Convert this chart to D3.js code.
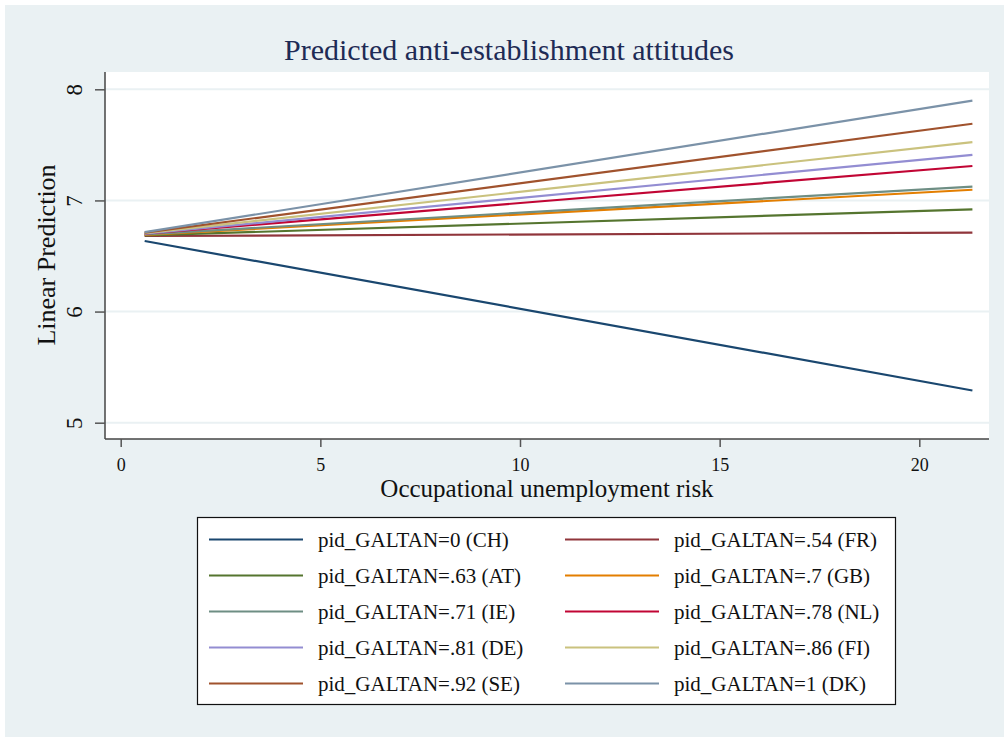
<!DOCTYPE html>
<html>
<head>
<meta charset="utf-8">
<script src="https://cdn.jsdelivr.net/npm/d3@7"></script>
<style>
  body { margin: 0; background: #fff; }
  svg text { font-family: "Liberation Serif", "Times New Roman", serif; }
</style>
</head>
<body>
<div class="main-container"></div>
<script>
// margins evaluated at the two ends of the risk range
const riskValues = [0.6, 21.33];

const seriesLabels = [
  "pid_GALTAN=0 (CH)", "pid_GALTAN=.54 (FR)",
  "pid_GALTAN=.63 (AT)", "pid_GALTAN=.7 (GB)",
  "pid_GALTAN=.71 (IE)", "pid_GALTAN=.78 (NL)",
  "pid_GALTAN=.81 (DE)", "pid_GALTAN=.86 (FI)",
  "pid_GALTAN=.92 (SE)", "pid_GALTAN=1 (DK)"
];

const predCH = [6.635, 5.29];
const predFR = [6.68, 6.71];
const predAT = [6.685, 6.92];
const predGB = [6.69, 7.096];
const predIE = [6.695, 7.125];
const predNL = [6.70, 7.31];
const predDE = [6.70, 7.41];
const predFI = [6.705, 7.525];
const predSE = [6.71, 7.69];
const predDK = [6.715, 7.898];

const seriesValues = [predCH, predFR, predAT, predGB, predIE, predNL, predDE, predFI, predSE, predDK];

const colors = ["#1a476f", "#90353b", "#55752f", "#e37e00", "#6e8e84",
                "#c10534", "#938dd2", "#cac27e", "#a0522d", "#7b92a8"];

const xTicks = [0, 5, 10, 15, 20];
const yTicks = [5, 6, 7, 8];

const width = 1004, height = 737;
const plot = {left: 105, right: 989, top: 72, bottom: 439};

const svg = d3.select(".main-container")
  .append("svg")
  .attr("width", width)
  .attr("height", height);

// outer background
svg.append("rect")
  .attr("x", 5).attr("y", 5)
  .attr("width", width - 5).attr("height", height - 5)
  .attr("fill", "#eaf1f3");

svg.append("rect")
  .attr("x", plot.left).attr("y", plot.top)
  .attr("width", plot.right - plot.left).attr("height", plot.bottom - plot.top)
  .attr("fill", "#fff");

let x = d3.scaleLinear()
  .domain([0, 20])
  .range([120.7, 919.3]);

let y = d3.scaleLinear()
  .domain([5, 8])
  .range([422.7, 89.3]);

// grid
svg.append("g")
  .selectAll("line")
  .data(yTicks)
  .join("line")
  .attr("x1", plot.left).attr("x2", plot.right)
  .attr("y1", d => y(d)).attr("y2", d => y(d))
  .attr("stroke", "#eaf1f3")
  .attr("stroke-width", 2);

// lines
const line = d3.line()
  .x(d => x(d[0]))
  .y(d => y(d[1]));

svg.append("g")
  .selectAll("path")
  .data(seriesValues)
  .join("path")
  .attr("fill", "none")
  .attr("stroke", (d, i) => colors[i])
  .attr("stroke-width", 2.2)
  .attr("d", d => line(riskValues.map((r, j) => [r, d[j]])));

// y axis
const yAxis = svg.append("g")
  .attr("transform", `translate(${plot.left},0)`)
  .call(d3.axisLeft(y).tickValues(yTicks).tickSize(10).tickFormat(d3.format("d")));
yAxis.select(".domain")
  .attr("d", `M0,${plot.top}V${plot.bottom}`)
  .attr("stroke", "#444").attr("stroke-width", 1.5);
yAxis.selectAll(".tick line").attr("stroke", "#555").attr("stroke-width", 1.5);
yAxis.selectAll(".tick text")
  .attr("x", null).attr("dy", null)
  .attr("transform", "translate(-31,0) rotate(-90)")
  .attr("text-anchor", "middle")
  .attr("dominant-baseline", "central")
  .attr("font-size", 23)
  .attr("fill", "#111");

// x axis
const xAxis = svg.append("g")
  .attr("transform", `translate(0,${plot.bottom})`)
  .call(d3.axisBottom(x).tickValues(xTicks).tickSize(8).tickFormat(d3.format("d")));
xAxis.select(".domain")
  .attr("d", `M${plot.left},0H${plot.right}`)
  .attr("stroke", "#444").attr("stroke-width", 1.5);
xAxis.selectAll(".tick line").attr("stroke", "#555").attr("stroke-width", 1.5);
xAxis.selectAll(".tick text")
  .attr("y", 32)
  .attr("dy", null)
  .attr("font-size", 18)
  .attr("fill", "#111");

// titles
svg.append("text")
  .attr("x", 509).attr("y", 60)
  .attr("text-anchor", "middle")
  .attr("font-size", 30)
  .attr("fill", "#1e2b55")
  .text("Predicted anti-establishment attitudes");

svg.append("text")
  .attr("transform", "translate(55,255) rotate(-90)")
  .attr("text-anchor", "middle")
  .attr("font-size", 26)
  .attr("fill", "#111")
  .text("Linear Prediction");

svg.append("text")
  .attr("x", 547).attr("y", 497)
  .attr("text-anchor", "middle")
  .attr("font-size", 25)
  .attr("fill", "#111")
  .text("Occupational unemployment risk");

// legend
const legend = svg.append("g");
legend.append("rect")
  .attr("x", 197.5).attr("y", 517.5)
  .attr("width", 698).attr("height", 187)
  .attr("fill", "#fff")
  .attr("stroke", "#111")
  .attr("stroke-width", 1.2);

const items = legend.selectAll("g.item")
  .data(seriesLabels)
  .join("g")
  .attr("class", "item")
  .attr("transform", (d, i) =>
    `translate(${i % 2 === 0 ? 209 : 565},${539.5 + Math.floor(i / 2) * 36})`);

items.append("line")
  .attr("x1", 0).attr("x2", 94)
  .attr("stroke", (d, i) => colors[i])
  .attr("stroke-width", 2.2);

items.append("text")
  .attr("x", 109)
  .attr("dy", "0.35em")
  .attr("font-size", 21)
  .attr("fill", "#111")
  .text(d => d);
</script>
</body>
</html>
